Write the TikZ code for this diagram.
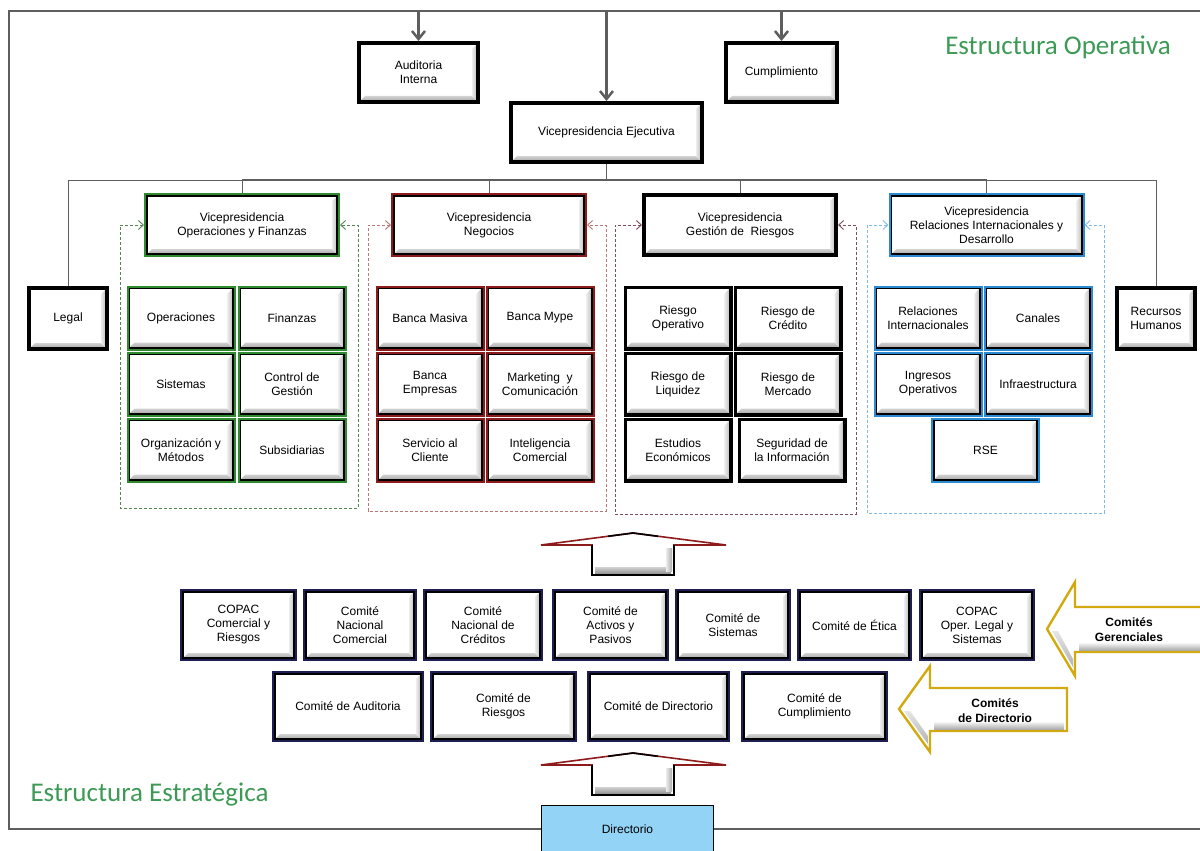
\documentclass[tikz,border=0pt]{standalone}
\usepackage{fontspec}
\setmainfont{Liberation Sans}
\newfontfamily\titlefont{Carlito}
\usetikzlibrary{arrows.meta,calc}

\definecolor{frameGray}{HTML}{5E5E5E}
\definecolor{titleGreen}{HTML}{3C9A55}
\definecolor{opGreen}{HTML}{2E8B2E}
\definecolor{negRed}{HTML}{8E1B1B}
\definecolor{rriBlue}{HTML}{2B8BD2}
\definecolor{comNavy}{HTML}{1E1E52}
\definecolor{goldLine}{HTML}{D2AA10}
\definecolor{dirBlue}{HTML}{92D3F6}

\tikzset{
  bevelbox/.style={draw=#1, line width=2pt, fill=white, align=center,
    font=\fontsize{12}{14}\selectfont, inner sep=2pt,
    path picture={
      \path (path picture bounding box.south west) coordinate (pbsw)
            (path picture bounding box.north east) coordinate (pbne);
      \shade[top color=gray!35, bottom color=gray!80]
        (pbsw) -- (pbsw -| pbne) -- ($(pbsw -| pbne)+(-7pt,7pt)$) -- ($(pbsw)+(7pt,7pt)$) -- cycle;
      \shade[left color=gray!15, right color=gray!65]
        (pbsw -| pbne) -- (pbne) -- ($(pbne)+(-7pt,-7pt)$) -- ($(pbsw -| pbne)+(-7pt,7pt)$) -- cycle;
      \draw[black, line width=1.6pt] ($(pbsw)+(1.8pt,1.8pt)$) rectangle ($(pbne)+(-1.8pt,-1.8pt)$);
    }},
  bevelbox/.default=black,
  vpbox/.style={bevelbox=#1, minimum width=194, minimum height=62},
  subbox/.style={bevelbox=#1, minimum width=107, minimum height=63},
  combox/.style={bevelbox=comNavy, minimum height=70},
  dirbox/.style={bevelbox=comNavy, minimum height=69},
  topline/.style={frameGray, line width=2.5pt, -{Straight Barb[length=8pt,width=13pt]}},
  busline/.style={frameGray, line width=1pt},
  grpline/.style={draw=#1, line width=0.9pt, dash pattern=on 3pt off 2pt,
    {Straight Barb[length=5pt,width=9pt]}-{Straight Barb[length=5pt,width=9pt]}},
  title/.style={font=\titlefont\fontsize{27}{30}\selectfont, text=titleGreen},
  arrowlbl/.style={font=\bfseries\fontsize{12}{15}\selectfont, align=center},
  uparrow/.pic={
    \filldraw[fill=white, draw=negRed, line width=1.6pt] (0,0) -- (93,12) -- (41,12) -- (41,42) -- (-41,42) -- (-41,12) -- (-92,12) -- cycle;
    \shade[top color=gray!35, bottom color=gray!80] (-38,34) rectangle (38,40);
    \shade[left color=gray!15, right color=gray!65] (33,15) rectangle (39,38);
    \draw[black, line width=1.6pt] (41,12) -- (41,42) -- (-41,42) -- (-41,12);
    \draw[black, line width=1.6pt] (-25,3.3) -- (0,0) -- (25,3.3);
  }
}

\begin{document}
\begin{tikzpicture}[x=1pt, y=-1pt]
    \useasboundingbox (0,0) rectangle (1200,851);

    \draw[frameGray, line width=2pt] (1200,11) -- (9,11) -- (9,829) -- (1200,829);

    \node[bevelbox, minimum width=121, minimum height=61] (audit) at (418.5,72.5) {Auditoria\\Interna};
    \node[bevelbox, minimum width=113, minimum height=61] (cumpl) at (781.5,72.5) {Cumplimiento};
    \node[bevelbox, minimum width=193, minimum height=61] (vpe) at (606.5,132.5) {Vicepresidencia Ejecutiva};

    \coordinate (frAudit) at (418.5,11);
    \coordinate (frVpe) at (606.5,11);
    \coordinate (frCumpl) at (781.5,11);
    \draw[topline] (frAudit) -- (audit.north);
    \draw[topline] (frVpe) -- (vpe.north);
    \draw[topline] (frCumpl) -- (cumpl.north);

    \node[bevelbox, minimum width=80, minimum height=63] (legal) at (68,318.5) {Legal};
    \node[bevelbox, minimum width=80, minimum height=63] (rrhh) at (1156,318.5) {Recursos\\Humanos};

    \node[vpbox=opGreen] (vpof) at (242,225) {Vicepresidencia\\Operaciones y Finanzas};
    \node[vpbox=negRed] (vpneg) at (489,225) {Vicepresidencia\\Negocios};
    \node[vpbox=black] (vpgr) at (740,225) {Vicepresidencia\\Gestión de\ \ Riesgos};
    \node[vpbox=rriBlue] (vprri) at (986.5,225) {Vicepresidencia\\Relaciones Internacionales y\\Desarrollo};

    \coordinate (bus) at (606.5,180);
    \draw[busline] (vpe.south) -- (bus);
    \draw[busline] (legal.north) |- (bus) -| (rrhh.north);
    \draw[frameGray, line width=1.8pt] (vpof.north |- bus) -- (vprri.north |- bus);
    \draw[busline] (vpof.north |- bus) -- (vpof.north);
    \draw[busline] (vpneg.north |- bus) -- (vpneg.north);
    \draw[busline] (vpgr.north |- bus) -- (vpgr.north);
    \draw[busline] (vprri.north |- bus) -- (vprri.north);

    \node[subbox=opGreen] (oper) at (181,318) {Operaciones};
    \node[subbox=opGreen] (fin) at (292,318) {Finanzas};
    \node[subbox=opGreen] (sist) at (181,384) {Sistemas};
    \node[subbox=opGreen] (ctrl) at (292,384) {Control de\\Gestión};
    \node[subbox=opGreen] (orgm) at (181,450) {Organización y\\Métodos};
    \node[subbox=opGreen] (subs) at (292,450) {Subsidiarias};

    \node[subbox=negRed] (bmas) at (430,318) {Banca Masiva};
    \node[subbox=negRed] (bmype) at (540,318) {Banca Mype};
    \node[subbox=negRed] (bemp) at (430,384) {Banca\\Empresas};
    \node[subbox=negRed] (mkt) at (540,384) {Marketing\ \ y\\Comunicación};
    \node[subbox=negRed] (serv) at (430,450) {Servicio al\\Cliente};
    \node[subbox=negRed] (intel) at (540,450) {Inteligencia\\Comercial};

    \node[subbox=black] (rop) at (678,318) {Riesgo\\Operativo};
    \node[subbox=black] (rcred) at (788,318) {Riesgo de\\Crédito};
    \node[subbox=black] (rliq) at (678,384) {Riesgo de\\Liquidez};
    \node[subbox=black] (rmer) at (788,384) {Riesgo de\\Mercado};
    \node[subbox=black] (estec) at (678,450) {Estudios\\Económicos};
    \node[subbox=black] (seginf) at (792,450) {Seguridad de\\la Información};

    \node[subbox=rriBlue] (rri) at (928,318) {Relaciones\\Internacionales};
    \node[subbox=rriBlue] (canal) at (1038,318) {Canales};
    \node[subbox=rriBlue] (ingop) at (928,384) {Ingresos\\Operativos};
    \node[subbox=rriBlue] (infra) at (1038,384) {Infraestructura};
    \node[subbox=rriBlue] (rse) at (985.5,450) {RSE};

    \draw[grpline=opGreen!55!gray] (vpof.west) -| (120,508) -| (358,225) -- (vpof.east);
    \draw[grpline=negRed!60!white] (vpneg.west) -| (368,511) -| (606,225) -- (vpneg.east);
    \draw[grpline=black!35!purple!40!gray] (vpgr.west) -| (615,514) -| (856,225) -- (vpgr.east);
    \draw[grpline=rriBlue!60!white] (vprri.west) -| (867,513) -| (1104,225) -- (vprri.east);

    \pic at (633,533) {uparrow};

    \node[combox, minimum width=115] (copacCom) at (238.5,625) {COPAC\\Comercial y\\Riesgos};
    \node[combox, minimum width=112] (cnCom) at (360,625) {Comité\\Nacional\\Comercial};
    \node[combox, minimum width=118] (cnCred) at (483,625) {Comité\\Nacional de\\Créditos};
    \node[combox, minimum width=115] (cap) at (610.5,625) {Comité de\\Activos y\\Pasivos};
    \node[combox, minimum width=114] (csis) at (733,625) {Comité de\\Sistemas};
    \node[combox, minimum width=113] (cetica) at (854.5,625) {Comité de Ética};
    \node[combox, minimum width=114] (copacOp) at (977,625) {COPAC\\Oper. Legal y\\Sistemas};

    \node[dirbox, minimum width=150] (caud) at (348,706.5) {Comité de Auditoria};
    \node[dirbox, minimum width=145] (cries) at (503.5,706.5) {Comité de\\Riesgos};
    \node[dirbox, minimum width=141] (cdir) at (658.5,706.5) {Comité de Directorio};
    \node[dirbox, minimum width=145] (ccump) at (814.5,706.5) {Comité de\\Cumplimiento};

    \filldraw[fill=white, draw=goldLine, line width=2.4pt] (1047,629) -- (1075,582) -- (1075,607) -- (1202,607) -- (1202,652) -- (1075,652) -- (1075,676) -- cycle;
    \shade[top color=white, bottom color=gray!65] (1079,642) rectangle (1200,650);
    \shade[top color=gray!20, bottom color=gray!60] (1052,631) -- (1073,667) -- (1073,659) -- (1058,631) -- cycle;
    \node[arrowlbl] (lblGer) at (1129,630) {Comités\\Gerenciales};

    \filldraw[fill=white, draw=goldLine, line width=2.4pt] (899,709) -- (930,666) -- (930,688) -- (1067,688) -- (1067,731) -- (930,731) -- (930,752) -- cycle;
    \shade[top color=white, bottom color=gray!65] (934,721) rectangle (1064,729);
    \shade[top color=gray!20, bottom color=gray!60] (904,711) -- (928,744) -- (928,736) -- (910,711) -- cycle;
    \node[arrowlbl] (lblDir) at (995,711) {Comités\\de Directorio};

    \pic at (633,753) {uparrow};

    \node[draw=black, line width=1pt, fill=dirBlue, minimum width=172, minimum height=48, font=\fontsize{12}{14}\selectfont] (dir) at (627.5,829) {Directorio};

    \node[title] (titOp) at (1058,47) {Estructura Operativa};
    \node[title] (titEst) at (149.5,795) {Estructura Estratégica};
\end{tikzpicture}
\end{document}
